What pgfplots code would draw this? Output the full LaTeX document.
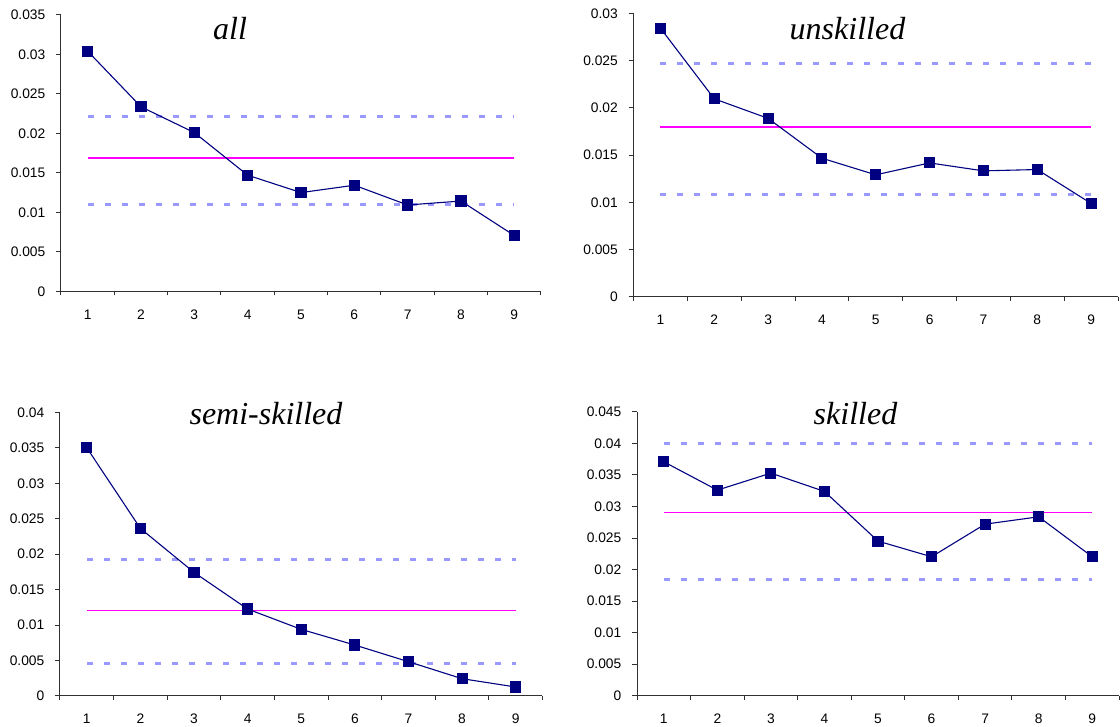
\documentclass[border=0pt]{standalone}
\usepackage{fontspec}
\setmainfont{Liberation Sans}
\newfontfamily\titlefont{Liberation Serif}
\usepackage{pgfplots}
\pgfplotsset{compat=1.18}
\definecolor{navy}{HTML}{000080}
\definecolor{dashblue}{HTML}{9999FF}
\definecolor{mag}{HTML}{FF00FF}
\definecolor{axgray}{HTML}{303030}
\pgfplotsset{
  panel/.style={
    scale only axis,
    axis x line*=bottom, axis y line*=left,
    axis line style={line width=0.5pt, axgray},
    xmin=0.5, xmax=9.5, ymin=0,
    xtick={1,...,9},
    minor xtick={0.5,1.5,...,9.5},
    every major x tick/.append style={draw=none},
    tick align=outside,
    major tick length=2.5pt, minor tick length=2pt,
    tick style={line width=0.5pt, axgray},
    scaled y ticks=false,
    /pgf/number format/assume math mode=true,
    yticklabel style={/pgf/number format/fixed, /pgf/number format/precision=3, font=\fontsize{6.9}{8}\selectfont, xshift=-1.8pt},
    xticklabel style={font=\fontsize{6.9}{8}\selectfont, yshift=-3pt},
    clip=false,
  },
  dat/.style={navy, line width=0.55pt, mark=square*, mark size=2.5pt, mark options={solid, fill=navy, draw=navy}},
  mean/.style={draw=mag, line width=0.7pt, no marks},
  band/.style={draw=dashblue, line width=1.5pt, dash pattern=on 3pt off 5.5pt, no marks},
}
\begin{document}
\begin{tikzpicture}[x=1pt,y=1pt]
\useasboundingbox (0,0) rectangle (560,363.5);
% all
\begin{axis}[panel, at={(30.5pt,217.75pt)}, anchor=south west, width=240pt, height=138.25pt,
  ymax=0.035, ytick={0,0.005,0.01,0.015,0.02,0.025,0.03,0.035}]
\addplot[band] coordinates {(1,0.0221) (9,0.0221)};
\addplot[band] coordinates {(1,0.01103) (9,0.01103)};
\addplot[mean] coordinates {(1,0.0169) (9,0.0169)};
\addplot[dat] coordinates {(1,0.03042) (2,0.02338) (3,0.02011) (4,0.01472) (5,0.01252) (6,0.01345) (7,0.01095) (8,0.01145) (9,0.00708)};
\end{axis}
% unskilled
\begin{axis}[panel, at={(316.75pt,215.15pt)}, anchor=south west, width=242.25pt, height=141.6pt,
  ymax=0.03, ytick={0,0.005,0.01,0.015,0.02,0.025,0.03}]
\addplot[band] coordinates {(1,0.02465) (9,0.02465)};
\addplot[band] coordinates {(1,0.01083) (9,0.01083)};
\addplot[mean] coordinates {(1,0.01797) (9,0.01797)};
\addplot[dat] coordinates {(1,0.02845) (2,0.02096) (3,0.01889) (4,0.01467) (5,0.01291) (6,0.01417) (7,0.01333) (8,0.01347) (9,0.00988)};
\end{axis}
% semi-skilled
\begin{axis}[panel, at={(30pt,15.5pt)}, anchor=south west, width=241.25pt, height=141.75pt,
  ymax=0.04, ytick={0,0.005,0.01,0.015,0.02,0.025,0.03,0.035,0.04}]
\addplot[band] coordinates {(1,0.01927) (9,0.01927)};
\addplot[band] coordinates {(1,0.00461) (9,0.00461)};
\addplot[mean] coordinates {(1,0.01208) (9,0.01208)};
\addplot[dat] coordinates {(1,0.03502) (2,0.02364) (3,0.01744) (4,0.01227) (5,0.0094) (6,0.00719) (7,0.00484) (8,0.00244) (9,0.00127)};
\end{axis}
% skilled
\begin{axis}[panel, at={(318.5pt,15.6pt)}, anchor=south west, width=241pt, height=142pt,
  ymax=0.045, ytick={0,0.005,0.01,0.015,0.02,0.025,0.03,0.035,0.04,0.045}]
\addplot[band] coordinates {(1,0.04004) (9,0.04004)};
\addplot[band] coordinates {(1,0.01843) (9,0.01843)};
\addplot[mean] coordinates {(1,0.029) (9,0.029)};
\addplot[dat] coordinates {(1,0.03708) (2,0.03259) (3,0.03528) (4,0.03238) (5,0.02451) (6,0.02203) (7,0.0272) (8,0.02836) (9,0.02203)};
\end{axis}
\node[anchor=base, font=\titlefont\itshape\fontsize{16}{18}\selectfont, inner sep=0pt] at (115,343.5) {all};
\node[anchor=base, font=\titlefont\itshape\fontsize{16}{18}\selectfont, inner sep=0pt] at (423.75,343.5) {unskilled};
\node[anchor=base, font=\titlefont\itshape\fontsize{16}{18}\selectfont, inner sep=0pt] at (133,151.3) {semi-skilled};
\node[anchor=base, font=\titlefont\itshape\fontsize{16}{18}\selectfont, inner sep=0pt] at (427.75,151.3) {skilled};
\end{tikzpicture}
\end{document}
